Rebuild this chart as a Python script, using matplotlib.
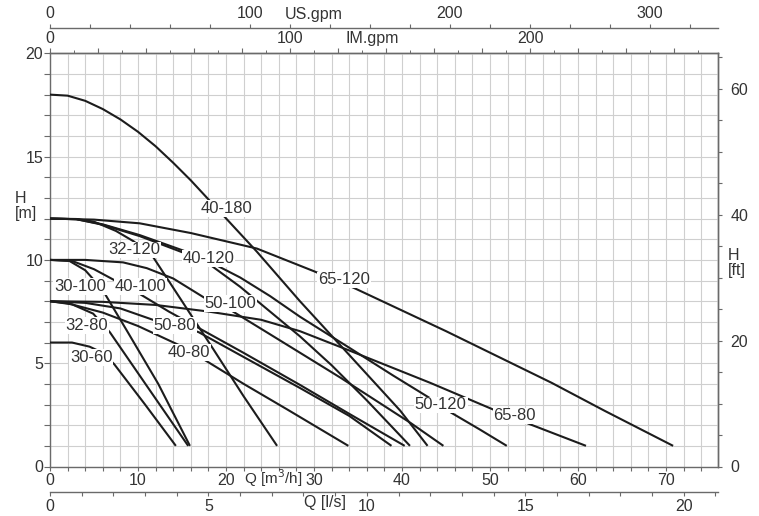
import matplotlib
matplotlib.use('Agg')
import matplotlib.pyplot as plt
import matplotlib.transforms as mtransforms
from matplotlib.ticker import MultipleLocator, FuncFormatter

plt.rcParams['font.family'] = ['Liberation Sans', 'DejaVu Sans']

# ---------------- data (Q in m3/h, H in m) ----------------
q_30_60 = [0, 2.5, 4.5, 6.0, 7.3, 10.8, 14.3]
h_30_60 = [6.0, 6.0, 5.8, 5.5, 4.95, 3.0, 1.0]

q_32_80 = [0, 2.5, 4.9, 6.8, 11.0, 15.7]
h_32_80 = [8.0, 7.85, 7.4, 6.5, 3.9, 1.0]

q_30_100 = [0, 2.2, 4.0, 5.9, 8.7, 12.3, 15.9]
h_30_100 = [10.0, 9.95, 9.5, 8.6, 6.6, 4.0, 1.0]

q_40_80 = [0, 2, 6, 10, 14.8, 17.6, 22, 27, 33.9]
h_40_80 = [8.0, 7.9, 7.45, 6.8, 5.85, 5.15, 4.0, 2.75, 1.0]

q_50_80 = [0, 4, 8, 11.7, 14.5, 16.9, 22, 28.4, 34, 38.8]
h_50_80 = [8.0, 7.92, 7.65, 7.1, 6.85, 6.5, 5.3, 3.8, 2.45, 1.0]

q_65_80 = [0, 6, 12, 18, 24, 28.4, 34.1, 43.2, 50.4, 54.5, 60.9]
h_65_80 = [8.0, 7.97, 7.82, 7.5, 7.1, 6.55, 5.6, 4.05, 2.75, 2.05, 1.0]

q_40_100 = [0, 2.5, 5, 7.4, 10.2, 13.5, 16.7, 22, 28.4, 34, 40.3]
h_40_100 = [10.0, 9.95, 9.55, 9.0, 8.35, 7.5, 6.75, 5.5, 3.95, 2.55, 1.0]

q_50_100 = [0, 4, 8.3, 11, 14, 17.8, 20.6, 25, 29, 33, 37, 41, 44.7]
h_50_100 = [10.0, 10.0, 9.88, 9.6, 9.1, 8.1, 7.55, 6.4, 5.35, 4.3, 3.2, 2.1, 1.0]

q_32_120 = [0, 3, 5, 7.5, 9.5, 11.7, 15, 18.6, 22, 25.8]
h_32_120 = [12.0, 11.98, 11.85, 11.4, 10.9, 10.15, 8.0, 5.65, 3.4, 1.0]

q_40_120 = [0, 3, 6, 10.2, 15.15, 18.4, 21.6, 25, 28.4, 32, 36, 40.9]
h_40_120 = [12.0, 11.97, 11.7, 11.15, 10.35, 9.7, 8.7, 7.5, 6.3, 4.9, 3.2, 1.0]

q_50_120 = [0, 3, 6, 10.2, 15.15, 18.4, 21.6, 25, 28.4, 34, 39, 43.2, 45.6, 48.8, 51.9]
h_50_120 = [12.0, 11.97, 11.72, 11.2, 10.45, 9.85, 9.15, 8.25, 7.25, 5.75, 4.4, 3.3, 2.6, 1.8, 1.0]

q_65_120 = [0, 5, 10.2, 16, 23.5, 30, 34.5, 40, 45, 51, 57, 63, 70.8]
h_65_120 = [12.0, 11.95, 11.77, 11.3, 10.55, 9.45, 8.65, 7.55, 6.55, 5.3, 4.05, 2.7, 1.0]

q_40_180 = [0, 2, 4, 6, 8, 10, 12, 14, 16, 18.5, 23.5, 28.4, 34, 39.8, 42.9]
h_40_180 = [18.0, 17.95, 17.7, 17.3, 16.8, 16.2, 15.5, 14.7, 13.85, 12.7, 10.4, 8.0, 5.4, 2.7, 1.0]

curves = [
    ("30-60", q_30_60, h_30_60),
    ("32-80", q_32_80, h_32_80),
    ("30-100", q_30_100, h_30_100),
    ("40-80", q_40_80, h_40_80),
    ("50-80", q_50_80, h_50_80),
    ("65-80", q_65_80, h_65_80),
    ("40-100", q_40_100, h_40_100),
    ("50-100", q_50_100, h_50_100),
    ("32-120", q_32_120, h_32_120),
    ("40-120", q_40_120, h_40_120),
    ("50-120", q_50_120, h_50_120),
    ("65-120", q_65_120, h_65_120),
    ("40-180", q_40_180, h_40_180),
]

# curve label anchor points (Q, H)
label_pos = {
    "30-60": (4.7, 5.28), "32-80": (4.2, 6.82), "30-100": (3.4, 8.7),
    "40-80": (15.8, 5.53), "50-80": (14.2, 6.82), "65-80": (52.8, 2.45),
    "40-100": (10.3, 8.7), "50-100": (20.5, 7.9), "32-120": (9.55, 10.48),
    "40-120": (18.0, 10.08), "50-120": (44.4, 2.98), "65-120": (33.4, 9.03),
    "40-180": (20.0, 12.5),
}

# unit conversions
US_PER_M3H = 4.4029
IM_PER_M3H = 3.6662
LS_PER_M3H = 1 / 3.6
FT_PER_M = 3.2808

# ---------------- figure ----------------
W, H = 759, 516
fig = plt.figure(figsize=(W / 100, H / 100), dpi=100)
L, R = 50 / W, 718 / W
B, T = 1 - 466.5 / H, 1 - 53.3 / H
ax = fig.add_axes([L, B, R - L, T - B])
ax.set_xlim(0, 75.9)
ax.set_ylim(0, 20)

spine_c = '#6a6a6a'
txt_c = '#333333'
for s in ax.spines.values():
    s.set_color(spine_c)
    s.set_linewidth(1.0)

def every(n):
    return FuncFormatter(lambda v, p: f"{int(round(v))}" if abs(v / n - round(v / n)) < 1e-6 else "")

ax.xaxis.set_major_locator(MultipleLocator(2))
ax.xaxis.set_major_formatter(every(10))
ax.yaxis.set_major_locator(MultipleLocator(1))
ax.yaxis.set_major_formatter(every(5))
ax.tick_params(axis='x', direction='out', length=3, width=0.8, color=spine_c,
               labelsize=11.5, labelcolor=txt_c, pad=2)
ax.tick_params(axis='y', direction='out', length=4, width=0.8, color=spine_c,
               labelsize=11.5, labelcolor=txt_c, pad=1)
ax.grid(True, color='#cfcfcf', linewidth=0.8)
ax.set_axisbelow(True)

for name, q, h in curves:
    ax.plot(q, h, color='#1c1c1c', linewidth=1.5, zorder=3, solid_capstyle='butt')
    lx, ly = label_pos[name]
    ax.text(lx, ly, name, ha='center', va='center', fontsize=12, color=txt_c, zorder=4,
            bbox=dict(boxstyle='square,pad=0.05', fc='white', ec='none'))

# secondary axes
def sec_style(sec, which, major, minor, lab_every, length=3.5):
    axis = sec.xaxis if which in ('top', 'bottom') else sec.yaxis
    axis.set_major_locator(MultipleLocator(major))
    axis.set_major_formatter(every(lab_every))
    if minor:
        axis.set_minor_locator(MultipleLocator(minor))
    sec.tick_params(which='major', direction='out', length=length, width=0.8, color=spine_c,
                    labelsize=11.5, labelcolor=txt_c, pad=2)
    sec.tick_params(which='minor', direction='out', length=2, width=0.7, color=spine_c)
    for s in sec.spines.values():
        s.set_color(spine_c)
        s.set_linewidth(1.0)

sec_im = ax.secondary_xaxis('top', functions=(lambda x: x * IM_PER_M3H, lambda x: x / IM_PER_M3H))
sec_style(sec_im, 'top', 20, 10, 100)

sec_us = ax.secondary_xaxis((466.5 - 28) / 413.2,
                            functions=(lambda x: x * US_PER_M3H, lambda x: x / US_PER_M3H))
sec_style(sec_us, 'top', 20, None, 100, length=3)

sec_ls = ax.secondary_xaxis(-(492 - 466.5) / 413.2,
                            functions=(lambda x: x * LS_PER_M3H, lambda x: x / LS_PER_M3H))
sec_style(sec_ls, 'bottom', 1, None, 5, length=3)

sec_ft = ax.secondary_yaxis('right', functions=(lambda y: y * FT_PER_M, lambda y: y / FT_PER_M))
sec_style(sec_ft, 'right', 5, None, 20, length=3)
sec_ft.tick_params(pad=6)

# axis titles
bt = mtransforms.blended_transform_factory(ax.transData, ax.transAxes)
ax.text(25.3, -0.028, "Q [m$^3$/h]", transform=bt, ha='center', va='center',
        fontsize=11, color=txt_c)
ax.text(31.3, -0.088, "Q [l/s]", transform=bt, ha='center', va='center',
        fontsize=11.5, color=txt_c)
ax.text(30.0, 1.093, "US.gpm", transform=bt, ha='center', va='center',
        fontsize=11.5, color=txt_c)
ax.text(36.6, 1.035, "IM.gpm", transform=bt, ha='center', va='center',
        fontsize=11.5, color=txt_c)
fig.text(15 / W, 1 - 206 / H, "H\n[m]", ha='left', va='center', fontsize=11.5,
         color=txt_c, linespacing=1.05)
fig.text(728 / W, 1 - 263 / H, "H\n[ft]", ha='left', va='center', fontsize=11.5,
         color=txt_c, linespacing=1.05)

fig.savefig('out.png', dpi=100, facecolor='white')
